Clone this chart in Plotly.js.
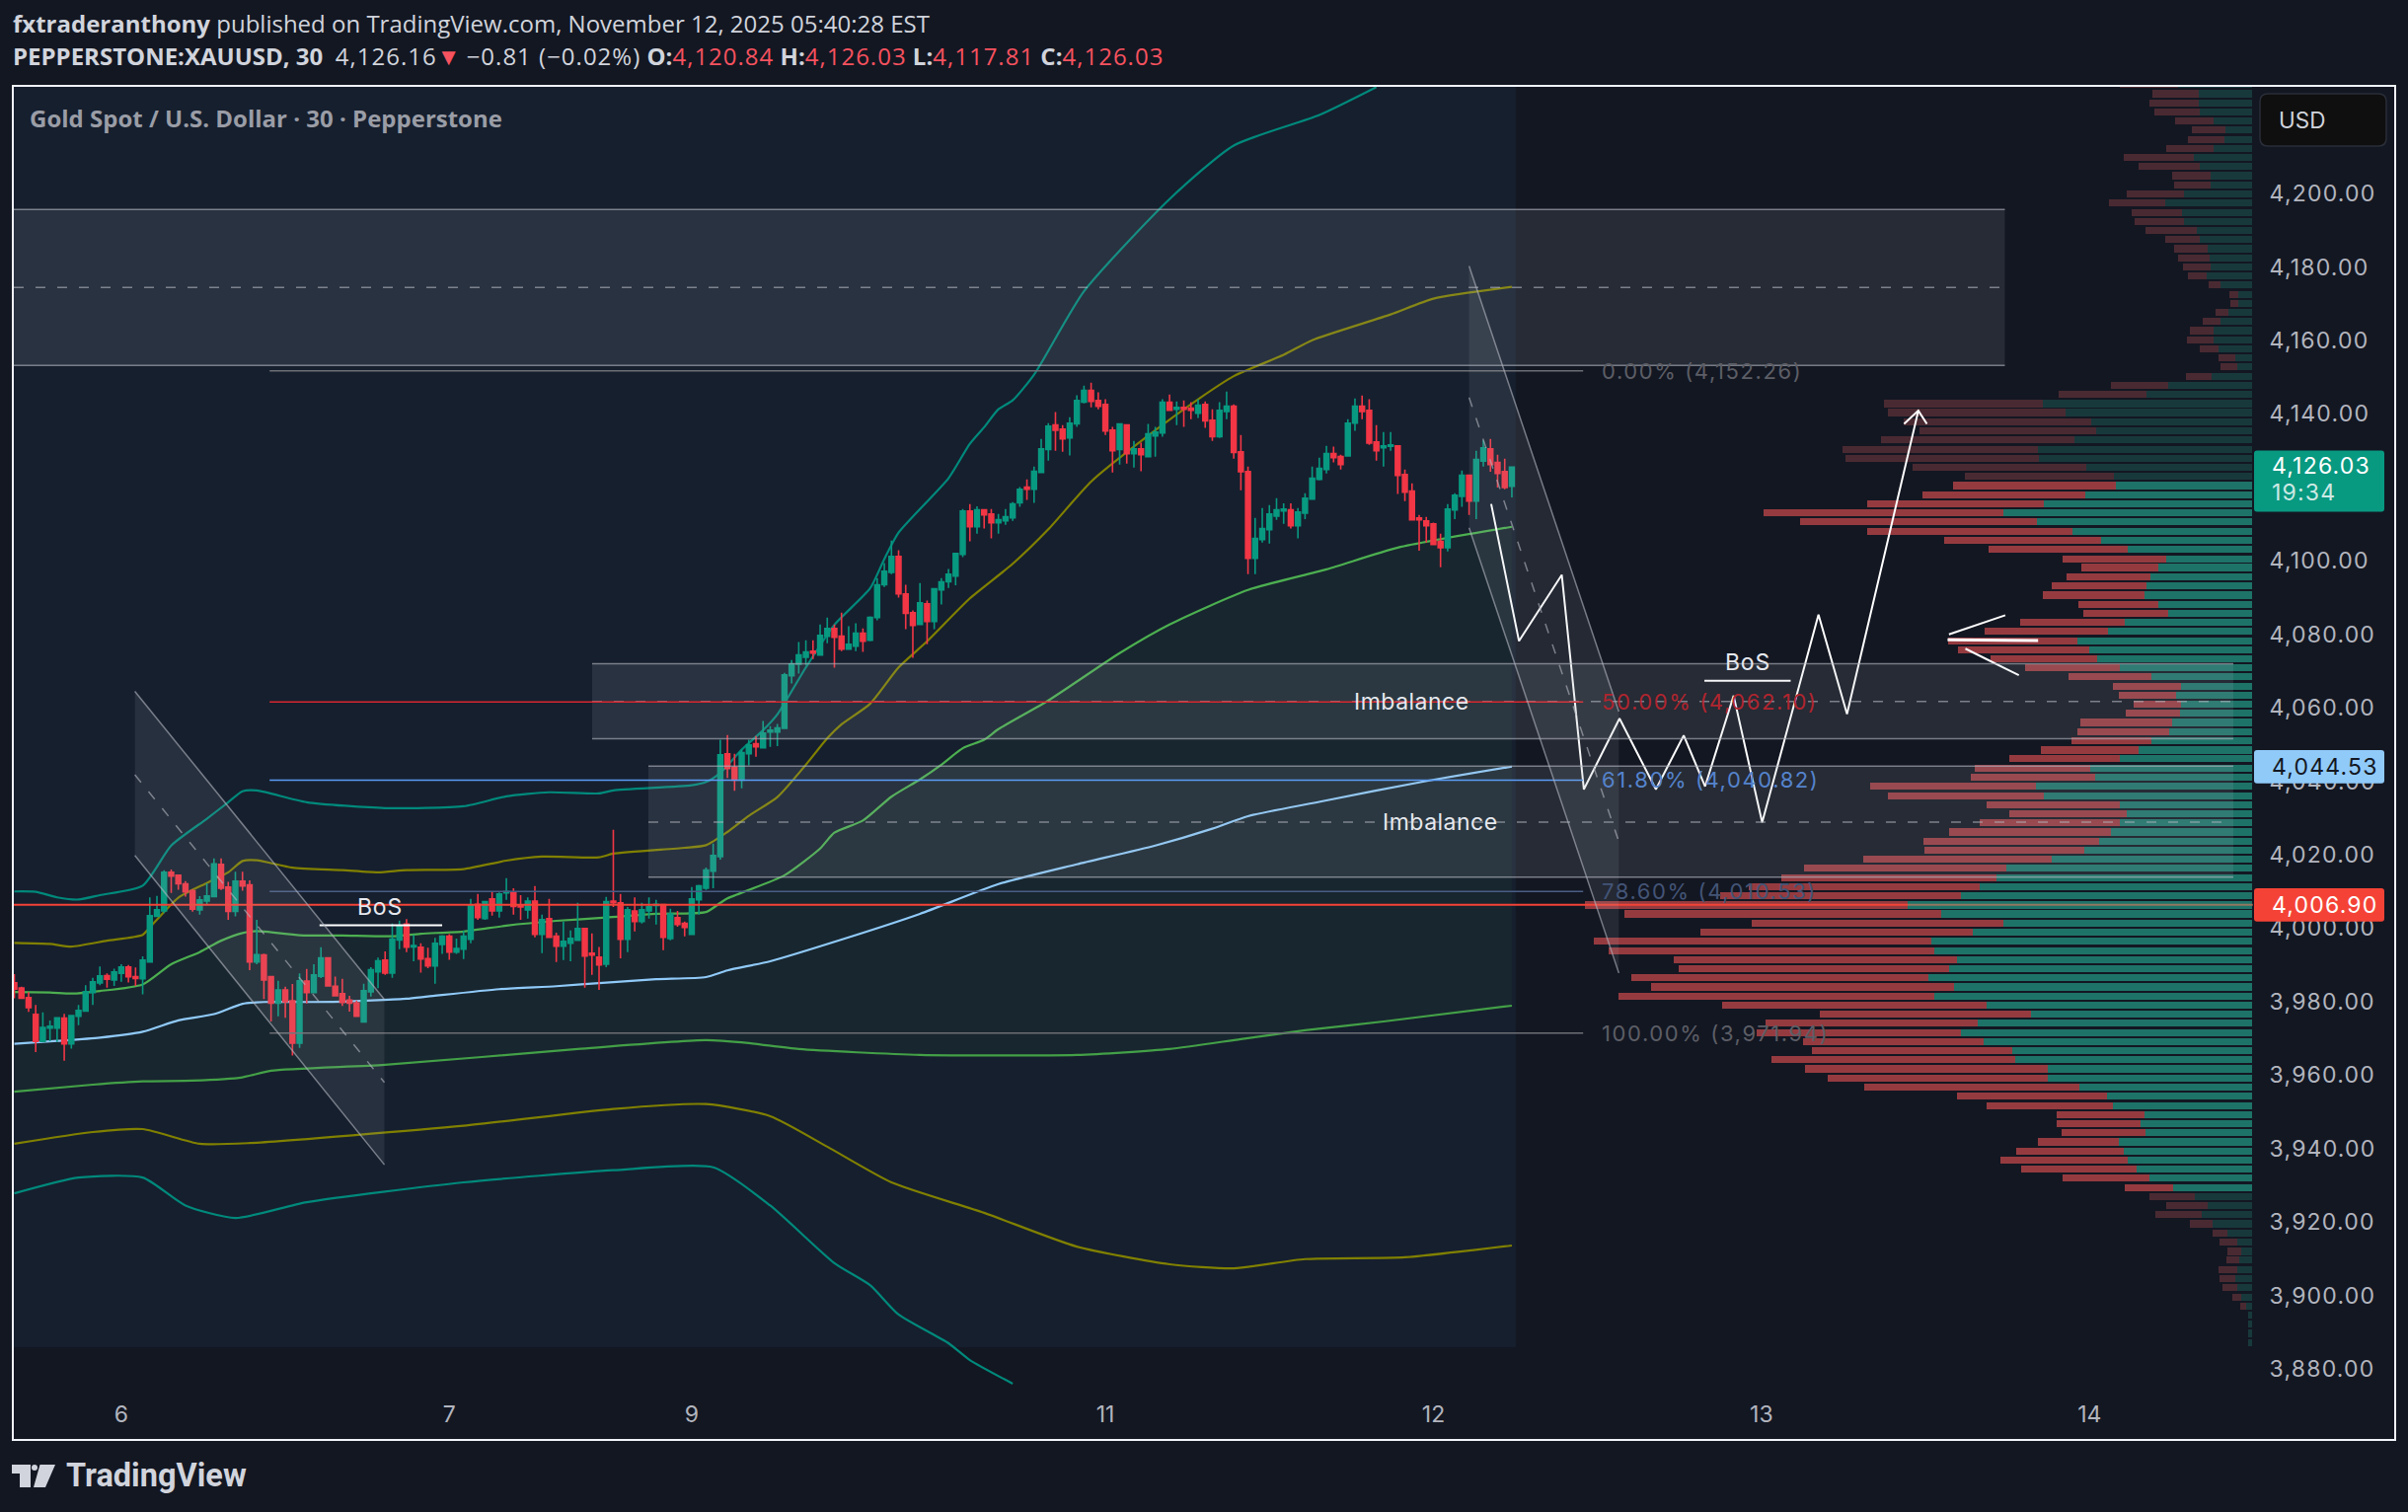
<!DOCTYPE html>
<html><head><meta charset="utf-8">
<script src="https://cdn.plot.ly/plotly-3.0.1.min.js"></script>
<style>html,body{margin:0;padding:0;background:#131722}#c{width:2440px;height:1532px}
.ytick text,.xtick text{letter-spacing:1.2px}</style>
</head><body><div id="c"></div>
<script>
// ---------- candles (30-minute bars, oldest first) ----------
const open_=[3985.6,3984.2,3981.6,3977.0,3969.7,3973.3,3973.3,3976.0,3969.0,3976.5,3977.9,3983.0,3985.6,3987.6,3986.4,3988.2,3989.9,3987.3,3986.7,3991.3,4003.7,4005.2,4015.7,4014.9,4012.6,4010.7,4005.5,4007.9,4009.1,4017.9,4011.7,4005.1,4013.3,4012.3,3991.3,3993.2,3987.3,3980.1,3983.7,3980.7,3969.2,3986.1,3983.0,3987.4,3992.4,3984.7,3982.7,3980.9,3980.1,3975.0,3983.2,3988.6,3991.8,3988.3,3997.3,4001.6,3995.4,3995.3,3992.2,3990.2,3996.1,3998.3,3994.0,3994.8,3997.5,4007.0,4003.1,4008.5,4005.2,4010.1,4010.3,4006.8,4005.5,4007.9,3998.8,4003.1,3998.3,3995.6,3996.4,3997.2,4000.4,3993.7,3992.6,3990.7,4007.9,4007.4,3997.5,4005.2,4002.3,4005.2,4006.7,4006.9,3997.7,4003.4,4001.8,3998.8,4008.2,4011.4,4016.0,4020.0,4048.0,4044.3,4040.8,4048.0,4050.7,4049.6,4053.9,4053.9,4054.9,4069.2,4072.4,4074.3,4075.9,4074.9,4080.0,4082.1,4080.0,4076.5,4077.3,4080.8,4078.9,4085.1,4094.0,4097.4,4101.7,4091.5,4086.4,4083.2,4088.8,4084.0,4092.6,4094.8,4096.4,4102.3,4114.1,4109.8,4114.4,4113.3,4110.9,4111.4,4112.2,4116.3,4120.6,4120.0,4124.6,4130.8,4137.5,4136.4,4134.0,4137.8,4143.7,4146.9,4144.2,4143.1,4136.1,4130.8,4137.5,4129.7,4131.0,4128.9,4134.5,4135.3,4143.7,4141.8,4142.3,4142.1,4140.7,4143.1,4138.8,4134.3,4141.2,4142.6,4130.2,4124.8,4101.2,4106.3,4109.0,4112.7,4114.1,4114.4,4110.1,4113.5,4117.3,4122.7,4125.4,4129.7,4128.9,4129.1,4138.0,4142.6,4141.5,4132.9,4131.3,4131.7,4131.8,4124.0,4119.5,4112.2,4111.4,4110.6,4105.8,4104.1,4114.4,4118.1,4123.8,4116.8,4127.7,4131.0,4127.3,4124.8,4120.84];
const high_=[3988.0,3984.6,3983.1,3979.6,3977.6,3975.4,3976.1,3977.2,3976.7,3979.6,3985.0,3987.0,3990.1,3988.2,3989.5,3990.7,3990.5,3989.8,3992.8,4008.9,4009.3,4016.3,4016.5,4015.1,4013.3,4011.1,4009.2,4012.7,4019.5,4019.5,4013.1,4015.9,4015.9,4013.5,4002.8,3993.6,3987.3,3986.2,3984.6,3985.3,3988.2,3989.4,3990.7,3995.3,3992.6,3987.3,3986.7,3982.1,3980.8,3985.4,3989.9,3992.5,3994.2,4001.8,4002.6,4003.0,3998.7,3996.4,3995.2,3997.9,3998.6,3998.9,3997.7,3999.8,4008.5,4009.8,4007.9,4010.3,4010.2,4014.1,4011.4,4009.5,4008.9,4012.0,4004.2,4008.5,3999.3,4002.3,3999.9,4007.4,4000.4,3999.1,3995.4,4009.0,4027.3,4009.8,4006.3,4008.9,4007.4,4008.9,4008.2,4006.9,4005.8,4005.2,4002.3,4011.7,4012.3,4017.0,4023.5,4051.8,4053.1,4048.0,4049.1,4051.8,4052.8,4056.9,4055.5,4056.1,4070.0,4073.5,4078.4,4078.9,4078.9,4083.2,4085.1,4083.2,4086.4,4082.7,4083.5,4082.1,4085.4,4095.8,4099.9,4106.0,4103.4,4094.0,4087.0,4094.5,4089.7,4093.1,4095.8,4098.3,4102.7,4114.6,4116.0,4115.4,4114.6,4114.6,4113.3,4114.6,4116.5,4120.6,4122.7,4126.2,4133.7,4138.0,4141.0,4137.5,4139.6,4145.6,4148.2,4149.0,4146.4,4144.5,4137.0,4137.8,4137.5,4133.2,4132.7,4137.8,4137.0,4144.5,4145.8,4143.9,4144.2,4143.7,4144.5,4143.9,4141.8,4143.7,4146.6,4143.1,4134.8,4126.2,4112.2,4114.9,4115.7,4117.6,4116.2,4116.2,4114.9,4118.9,4126.2,4128.6,4131.8,4131.6,4129.4,4139.1,4144.7,4145.5,4144.5,4137.5,4135.6,4135.6,4131.8,4125.4,4121.6,4113.0,4112.5,4110.9,4107.9,4116.0,4118.9,4125.1,4124.0,4130.5,4133.3,4133.7,4129.4,4128.3,4126.03];
const low_=[3981.4,3981.3,3977.7,3966.8,3969.7,3969.7,3969.5,3964.4,3967.7,3974.1,3977.9,3979.6,3985.0,3984.3,3984.8,3985.9,3985.7,3984.8,3982.5,3991.3,4003.7,4004.6,4010.1,4011.0,4009.1,4005.0,4004.2,4007.1,4009.1,4010.9,4002.8,4003.7,4010.7,3989.1,3990.7,3981.2,3975.1,3976.5,3976.1,3965.8,3967.9,3980.0,3983.0,3986.9,3984.8,3981.9,3979.3,3977.8,3976.5,3975.0,3981.9,3984.2,3987.8,3987.0,3994.8,3994.0,3991.5,3988.4,3989.6,3985.4,3993.5,3991.9,3993.5,3992.1,3996.4,4002.8,4002.8,4003.9,4003.4,4008.2,4004.2,4002.8,4003.1,3998.0,3993.7,3998.0,3991.3,3991.8,3991.5,3997.2,3984.3,3987.8,3983.7,3989.9,4006.3,3992.3,3994.0,3999.6,4001.8,4003.1,4001.5,3994.5,3997.2,4000.9,3998.3,3998.8,4004.2,4010.9,4011.4,4019.2,4041.4,4037.9,4038.6,4044.8,4047.2,4049.6,4049.9,4050.1,4054.7,4067.1,4069.8,4072.2,4073.8,4074.9,4078.1,4071.4,4075.9,4076.5,4075.9,4075.7,4078.6,4084.3,4093.4,4096.9,4090.5,4081.9,4074.1,4083.2,4077.8,4081.9,4088.6,4093.1,4093.9,4101.5,4105.8,4107.9,4109.3,4106.6,4107.9,4110.3,4111.4,4115.2,4117.1,4116.3,4124.6,4127.8,4130.5,4130.2,4129.2,4137.0,4143.4,4142.3,4141.8,4134.8,4124.6,4126.7,4127.0,4125.9,4124.9,4128.9,4128.9,4134.3,4141.5,4137.5,4137.0,4139.1,4139.4,4136.7,4133.2,4134.0,4139.1,4128.3,4119.7,4096.9,4096.9,4105.5,4105.2,4111.7,4110.6,4109.3,4106.6,4111.9,4117.3,4122.4,4124.3,4127.3,4125.4,4128.9,4135.9,4139.1,4132.1,4127.8,4126.2,4130.5,4118.7,4116.8,4111.7,4103.3,4105.5,4105.0,4098.8,4103.1,4111.9,4115.2,4113.0,4111.9,4126.2,4124.8,4120.5,4120.0,4117.81];
const close_=[3983.9,3981.4,3978.9,3969.7,3973.5,3973.8,3976.1,3969.0,3976.7,3978.1,3983.2,3985.9,3987.5,3986.6,3988.6,3989.9,3987.3,3986.8,3991.8,4003.9,4005.5,4015.7,4014.7,4012.6,4010.4,4005.7,4008.2,4009.3,4018.0,4011.4,4005.1,4013.3,4012.0,3991.3,3993.3,3986.4,3980.1,3983.7,3980.5,3969.2,3986.2,3983.0,3987.8,3992.4,3984.8,3982.1,3980.3,3980.1,3976.5,3983.5,3989.2,3991.6,3988.3,3997.5,4001.1,3995.3,3995.8,3992.1,3990.2,3996.4,3998.3,3994.0,3995.0,3998.3,4006.8,4003.4,4007.7,4005.2,4009.8,4010.5,4006.4,4006.3,4007.9,3998.8,4002.8,3998.0,3995.6,3996.9,3997.7,4000.4,3992.9,3993.2,3990.5,4007.7,4007.4,3997.5,4005.5,4002.3,4005.5,4006.3,4007.0,3998.0,4004.4,4001.5,4000.7,4008.5,4012.0,4016.3,4020.3,4047.7,4044.0,4040.8,4048.3,4050.4,4049.9,4053.6,4054.4,4055.0,4069.5,4072.4,4074.9,4075.7,4075.4,4080.2,4082.1,4079.7,4076.5,4077.8,4080.8,4078.6,4085.1,4094.0,4097.7,4101.7,4091.5,4086.2,4082.9,4089.1,4084.0,4092.9,4094.8,4096.9,4102.5,4114.1,4109.8,4114.4,4113.0,4110.9,4111.7,4112.5,4116.0,4120.0,4120.0,4124.9,4131.0,4137.2,4136.1,4133.7,4138.0,4144.2,4146.9,4143.9,4142.6,4135.9,4130.5,4137.8,4129.7,4131.0,4129.4,4135.1,4135.6,4143.7,4141.5,4142.3,4141.8,4141.5,4142.9,4138.6,4134.3,4141.5,4142.6,4130.0,4124.8,4101.2,4106.6,4109.3,4113.3,4114.4,4114.6,4110.1,4113.8,4117.6,4123.0,4125.7,4129.7,4128.6,4126.7,4138.0,4142.6,4141.2,4132.6,4130.5,4131.8,4132.1,4123.8,4119.2,4111.7,4111.7,4110.1,4105.0,4104.1,4114.6,4118.4,4123.8,4116.8,4128.1,4131.3,4126.7,4124.3,4120.5,4126.03];

// ---------- anchored VWAP and bands ----------
const vwapBars=[0,6,12,18,23,28,32,35,41,46,51,55,58,68,76,83,90,97,100,106,116,127,138,149,160,168,173,184,197,210];
const vwapVals=[3969.0,3969.8,3970.7,3972.3,3975.4,3977.1,3979.9,3980.4,3980.4,3980.5,3980.9,3981.3,3981.9,3983.9,3984.7,3985.7,3986.6,3987.2,3989.0,3991.5,3997.4,4004.4,4012.5,4017.9,4023.0,4027.6,4031.0,4035.3,4040.2,4044.5];
const up1Bars=[0,5,8,12,18,22,26,29,32,34,40,46,53,57,63,69,76,83,90,97,99,100,108,113,115,119,123,127,130,133,136,138,145,155,162,173,184,194,210];
const up1Vals=[3983.1,3983.0,3982.7,3983.4,3985.2,3990.7,3994.0,3997.1,3999.2,3999.7,3998.6,3998.5,3998.3,3999.0,3999.6,4001.2,4002.5,4003.4,4004.4,4004.9,4007.4,4008.6,4014.9,4022.2,4026.5,4029.8,4036.3,4041.0,4045.0,4049.5,4051.8,4054.7,4062.5,4075.4,4083.2,4092.6,4098.2,4104.1,4109.8];
const lo1Bars=[0,11,18,25,32,36,52,79,97,103,110,127,149,162,172,181,192,210];
const lo1Vals=[3956.0,3957.9,3958.8,3959.0,3959.9,3961.7,3963.3,3967.6,3970.0,3969.2,3967.6,3966.0,3966.0,3967.6,3970.3,3972.7,3975.1,3979.4];
const up2Bars=[0,5,8,13,18,19,23,27,30,32,34,39,46,51,55,63,69,74,82,84,94,97,100,103,107,111,114,116,120,124,128,134,140,145,151,159,166,171,178,182,193,199,210];
const up2Vals=[3996.5,3996.2,3995.5,3997.1,3998.7,4000.7,4008.8,4012.8,4015.7,4018.8,4019.0,4017.0,4016.3,4015.7,4016.3,4016.6,4018.9,4020.0,4019.8,4020.8,4022.4,4023.1,4026.7,4031.1,4036.2,4045.0,4052.2,4056.0,4061.6,4071.5,4078.6,4090.3,4099.7,4109.1,4122.1,4134.6,4144.5,4150.8,4156.6,4160.6,4167.6,4171.9,4175.1];
const lo2Bars=[0,11,18,26,33,63,84,97,106,114,123,136,149,162,171,181,195,210];
const lo2Vals=[3941.8,3945.0,3945.8,3941.8,3942.0,3946.7,3951.3,3952.6,3949.3,3941.0,3931.3,3923.0,3913.8,3909.0,3907.9,3910.4,3910.9,3914.1];
const up3Bars=[0,3,6,9,12,18,22,27,30,32,34,41,52,63,69,75,82,84,95,97,99,102,105,107,111,115,120,122,124,131,134,136,138,140,143,150,162,171,183,191];
const up3Vals=[4010.5,4010.4,4008.9,4008.3,4009.5,4012.1,4023.0,4030.3,4034.8,4037.8,4038.0,4034.8,4033.2,4033.7,4036.4,4037.5,4037.2,4038.0,4039.4,4040.3,4042.8,4049.1,4054.4,4058.7,4071.5,4083.1,4093.0,4101.0,4108.2,4123.0,4132.4,4136.9,4141.8,4144.2,4151.2,4173.9,4199.0,4213.6,4221.9,4229.5];
const lo3Bars=[0,9,18,24,31,41,63,84,98,106,115,120,124,131,134,140];
const lo3Vals=[3928.3,3932.6,3932.6,3925.0,3921.6,3925.9,3931.3,3934.6,3935.4,3925.0,3909.3,3903.3,3895.3,3887.5,3882.9,3876.5];

// ---------- volume profile ----------
const rowPrice=[4230.2,4227.7,4225.2,4222.7,4220.3,4217.8,4215.3,4212.8,4210.3,4207.9,4205.4,4202.9,4200.4,4197.9,4195.4,4193.0,4190.5,4188.0,4185.5,4183.0,4180.6,4178.1,4175.6,4173.1,4170.6,4168.2,4165.7,4163.2,4160.7,4158.2,4155.7,4153.3,4150.8,4148.3,4145.8,4143.3,4140.9,4138.4,4135.9,4133.4,4130.9,4128.4,4126.0,4123.5,4121.0,4118.5,4116.0,4113.6,4111.1,4108.6,4106.1,4103.6,4101.1,4098.7,4096.2,4093.7,4091.2,4088.7,4086.3,4083.8,4081.3,4078.8,4076.3,4073.9,4071.4,4068.9,4066.4,4063.9,4061.4,4059.0,4056.5,4054.0,4051.5,4049.0,4046.6,4044.1,4041.6,4039.1,4036.6,4034.1,4031.7,4029.2,4026.7,4024.2,4021.7,4019.3,4016.8,4014.3,4011.8,4009.3,4006.8,4004.4,4001.9,3999.4,3996.9,3994.4,3992.0,3989.5,3987.0,3984.5,3982.0,3979.5,3977.1,3974.6,3972.1,3969.6,3967.1,3964.7,3962.2,3959.7,3957.2,3954.7,3952.2,3949.8,3947.3,3944.8,3942.3,3939.8,3937.4,3934.9,3932.4,3929.9,3927.4,3924.9,3922.5,3920.0,3917.5,3915.0,3912.5,3910.1,3907.6,3905.1,3902.6,3900.1,3897.6,3895.2,3892.7,3890.2,3887.7];
const rowSell=[59.3,47,50,46.3,39.3,34,37,48.3,71.3,62.3,39,37,58.3,57,51.3,50.3,52,35.3,34.3,32.3,28,19,12,9,8,13,18,24.3,27.3,19,17,17.3,26,58.3,89,161.3,179.3,189.5,178.7,196,197.8,196.6,175.7,150.5,164.9,164.9,178.7,242.8,239.8,207.4,158.3,140.9,104.9,77.9,84.5,95.9,102.5,80.9,85.7,105.5,124.7,130.7,132.5,107.9,95.3,83.9,69.5,58.2,48,54.6,92.3,93.5,81.5,98.9,111.5,116.3,125.3,167.3,157.7,134.3,118.7,141.4,164.3,178,161.3,191.8,204.4,217.6,233.8,244,327.3,320.3,254.4,275.8,342.3,330,286.6,273.7,300.5,307.4,319.8,267.3,213.7,214.8,206.7,183.2,203,246.4,245.8,222.3,218,151.6,128,89.4,85.2,85.2,81.4,108.7,129.1,116.8,87.3,49.3,45.5,41.2,47.1,23,15,17.7,13.9,12.3,18.2,16.6,14.5,8.6,5.9,0,0,0,0];
const rowBuy=[74.7,54,54,52.7,38.7,27,28,38.7,58.7,52.7,42,42,68.7,88,70.7,68.7,56,52.7,44.7,42.7,42,46,32,14,14,24,32,38.7,38.7,34,17,14.7,41,84.7,107,212.2,189.5,163.1,158.3,179.9,217,215.8,167.9,140.3,137.9,169.1,211,251.8,218.2,182.3,153.5,125.9,87.5,94.7,103.1,106.7,109.1,94.7,85.1,129.5,146.3,177.5,165.5,157.1,134.3,101.9,71.9,76.7,71.9,73.1,81.5,83.9,101.9,115.1,134.3,164.3,159.5,219.4,211,134.3,127.1,134.3,142.7,154.7,170.3,202.6,249.4,259,275.8,295,348.7,315.5,252.3,282.8,324.6,321.9,299.4,306.9,328.3,301.6,321.9,269.4,224.4,278,295.1,271.6,242.6,240.5,207.3,207.3,175.1,147.3,140.9,108.7,113,107.7,135.5,130.2,125.9,117.3,104.4,79.8,58.4,45.5,50.9,40.2,25.2,15.5,11.2,13.4,15.5,16.6,15.5,11.2,5.9,3.7,3.7,3.7,3.7];
const visibleRangeHigh=4122, visibleRangeLow=3929;

// ---------- axis labels ----------
const priceTicks=[4200,4180,4160,4140,4120,4100,4080,4060,4040,4020,4000,3980,3960,3940,3920,3900,3880];
const priceLabels=["4,200.00","4,180.00","4,160.00","4,140.00","","4,100.00","4,080.00","4,060.00","4,040.00","4,020.00","4,000.00","3,980.00","3,960.00","3,940.00","3,920.00","3,900.00","3,880.00"];
const dayBars=[15,61,95,153,199,245,291];
const dayLabels=["6","7","9","11","12","13","14"];

// ---------- drawings ----------
const fibPrices=[4152.26,4062.10,4040.82,4010.53,3971.94];
const fibNames=["0.00% (4,152.26)","50.00% (4,062.10)","61.80% (4,040.82)","78.60% (4,010.53)","100.00% (3,971.94)"];
const boxTops=[4196.2,4072.5,4044.6];
const boxBottoms=[4153.7,4052.1,4014.4];
const boxMids=[4174.95,4062.2,4029.4];
const pathBars=[207.1,211,217,220.1,225.1,230.2,234.1,237.1,241.1,245.1,253,257,267];
const pathPrices=[4116.0,4078.7,4096.7,4038.3,4057.6,4038.3,4053.0,4039.1,4063.8,4029.3,4085.9,4058.8,4141.4];

// ---------- pixel helpers for the page furniture ----------
const PL=14,PR=2283,PT=88,PB=1410;
const px=v=>(v-PL)/(PR-PL), py=v=>1-(v-PT)/(PB-PT);
const barAt=v=>(v-14.5)/7.226;
const FONT='Inter, Roboto, sans-serif', GREY='#b2b5be', UP='#089981', DOWN='#f23645';
const HEAD='"Open Sans", sans-serif';

const traces=[];
const bright=p=>p<=visibleRangeHigh&&p>=visibleRangeLow;
traces.push({type:'bar',orientation:'h',x:rowBuy,y:rowPrice,width:1.92,xaxis:'x',yaxis:'y',hoverinfo:'skip',
  marker:{color:rowPrice.map(p=>bright(p)?'#1e7368':'#18393c'),line:{width:0}}});
traces.push({type:'bar',orientation:'h',x:rowSell,y:rowPrice,width:1.92,xaxis:'x',yaxis:'y',hoverinfo:'skip',
  marker:{color:rowPrice.map(p=>bright(p)?'#953b40':'#4a2a32'),line:{width:0}}});
const ln=(x,y,c,extra)=>Object.assign({type:'scatter',mode:'lines',x,y,xaxis:'x2',yaxis:'y',hoverinfo:'skip',line:{color:c,width:2.2,shape:'spline',smoothing:0.6}},extra||{});
traces.push(ln(lo1Bars,lo1Vals,'#43a047'));
traces.push(ln(up1Bars,up1Vals,'#4caf50',{fill:'tonexty',fillcolor:'rgba(76,175,80,0.05)'}));
traces.push(ln(vwapBars,vwapVals,'#90caf9'));
traces.push(ln(up2Bars,up2Vals,'#808000'));
traces.push(ln(lo2Bars,lo2Vals,'#808000'));
traces.push(ln(up3Bars,up3Vals,'#00897b'));
traces.push(ln(lo3Bars,lo3Vals,'#00897b'));
traces.push({type:'candlestick',x:open_.map((_,i)=>i),open:open_,high:high_,low:low_,close:close_,xaxis:'x3',yaxis:'y',
  hoverinfo:'skip',whiskerwidth:0,
  increasing:{line:{color:UP,width:1.6},fillcolor:UP},decreasing:{line:{color:DOWN,width:1.6},fillcolor:DOWN}});
const wl=(x,y,w)=>({type:'scatter',mode:'lines',x,y,xaxis:'x3',yaxis:'y',hoverinfo:'skip',line:{color:'#ffffff',width:w||2}});
traces.push(wl(pathBars,pathPrices));
traces.push(wl([265,267,268.2],[4137.8,4141.4,4137.8]));
traces.push(wl([279.2,271.3],[4085.7,4080.5]));
traces.push(wl([271.1,283.8],[4079.0,4078.8],3));
traces.push(wl([273.6,281.1],[4076.6,4069.4]));
traces.push(wl([42.8,60.0],[4001.3,4001.3]));
traces.push(wl([237,249.1],[4067.9,4067.9]));

const shapes=[];
// session background
shapes.push({type:'rect',layer:'below',xref:'x3',yref:'y',x0:-1,x1:barAt(1536),y0:3886.4,y1:4232,fillcolor:'#161f2e',line:{width:0}});
// zone boxes
const boxLefts=[14,600,657], boxRights=[2031.5,2263,2263];
boxTops.forEach((t,i)=>{
  const a=barAt(boxLefts[i]), b=barAt(boxRights[i]);
  shapes.push({type:'rect',xref:'x3',yref:'y',x0:a,x1:b,y0:boxBottoms[i],y1:t,fillcolor:'rgba(178,181,190,0.125)',line:{width:0}});
  [t,boxBottoms[i]].forEach(v=>shapes.push({type:'line',xref:'x3',yref:'y',x0:a,x1:b,y0:v,y1:v,line:{color:'rgba(178,181,190,0.62)',width:1.5}}));
  shapes.push({type:'line',xref:'x3',yref:'y',x0:a,x1:b,y0:boxMids[i],y1:boxMids[i],line:{color:'rgba(178,181,190,0.62)',width:1.5,dash:'10px,12px'}});
});
// fib lines
const fibColors=['#6c6e74','#d8262f','#5b9cf6','#4a5d84','#6c6e74'];
const fibText=['#5c5e66','#b0252f','#5583cc','#435476','#5c5e66'];
fibPrices.forEach((p,i)=>shapes.push({type:'line',xref:'x3',yref:'y',x0:35.8,x1:220,y0:p,y1:p,line:{color:fibColors[i],width:1.5}}));
// price line: solid across the chart, translucent over the buy side of the profile
shapes.push({type:'line',xref:'paper',yref:'y',x0:0,x1:px(1933),y0:4006.9,y1:4006.9,line:{color:'#f44336',width:2}});
shapes.push({type:'line',xref:'paper',yref:'y',x0:px(1933),x1:1,y0:4006.9,y1:4006.9,line:{color:'rgba(244,120,90,0.55)',width:2}});
// channels
const channels=[{a:16.9,b:51.9,ut:4065.0,ub:3981.1,mt:4042.3,mb:3958.5,lt:4020.3,lb:3936.1},
                {a:204,b:225,ut:4180.8,ub:4059.5,mt:4145.0,mb:4024.1,lt:4109.5,lb:3988.3}];
channels.forEach(c=>{
  const path=`M${c.a},${c.ut} L${c.b},${c.ub} L${c.b},${c.lb} L${c.a},${c.lt} Z`;
  shapes.push({type:'path',xref:'x3',yref:'y',path,fillcolor:'rgba(178,181,190,0.115)',line:{width:0}});
  shapes.push({type:'line',xref:'x3',yref:'y',x0:c.a,x1:c.b,y0:c.ut,y1:c.ub,line:{color:'rgba(178,181,190,0.62)',width:1.5}});
  shapes.push({type:'line',xref:'x3',yref:'y',x0:c.a,x1:c.b,y0:c.lt,y1:c.lb,line:{color:'rgba(178,181,190,0.62)',width:1.5}});
  shapes.push({type:'line',xref:'x3',yref:'y',x0:c.a,x1:c.b,y0:c.mt,y1:c.mb,line:{color:'rgba(178,181,190,0.62)',width:1.5,dash:'10px,12px'}});
});
// price tags
const rr=(x0,y0,x1,y1,r)=>`M${px(x0+r)},${py(y0)} L${px(x1-r)},${py(y0)} Q${px(x1)},${py(y0)} ${px(x1)},${py(y0+r)} L${px(x1)},${py(y1-r)} Q${px(x1)},${py(y1)} ${px(x1-r)},${py(y1)} L${px(x0+r)},${py(y1)} Q${px(x0)},${py(y1)} ${px(x0)},${py(y1-r)} L${px(x0)},${py(y0+r)} Q${px(x0)},${py(y0)} ${px(x0+r)},${py(y0)} Z`;
shapes.push({type:'path',xref:'paper',yref:'paper',path:rr(2284,456.5,2416,518.5,3),fillcolor:UP,line:{width:0}});
shapes.push({type:'path',xref:'paper',yref:'paper',path:rr(2284,760,2416,793.7,3),fillcolor:'#90caf9',line:{width:0}});
shapes.push({type:'path',xref:'paper',yref:'paper',path:rr(2284,900,2416,933.8,3),fillcolor:'#f44336',line:{width:0}});
// frame
shapes.push({type:'rect',xref:'paper',yref:'paper',x0:px(13),x1:px(2427),y0:py(87),y1:py(1459),line:{color:'#f0f3fa',width:2},fillcolor:'rgba(0,0,0,0)'});
// USD button
shapes.push({type:'path',xref:'paper',yref:'paper',path:rr(2290,95,2418,148,8),fillcolor:'#0f0f0f',line:{color:'#2a2e39',width:1.5}});
// logo
shapes.push({type:'path',xref:'paper',yref:'paper',fillcolor:'#d1d4dc',line:{width:0},
  path:`M${px(12)},${py(1484)} L${px(31)},${py(1484)} L${px(31)},${py(1507)} L${px(20)},${py(1507)} L${px(20)},${py(1493)} L${px(12)},${py(1493)} Z M${px(40.5)},${py(1484)} L${px(56)},${py(1484)} L${px(46)},${py(1507)} L${px(34)},${py(1507)} Z`});
shapes.push({type:'circle',xref:'paper',yref:'paper',x0:px(32),x1:px(38),y0:py(1484),y1:py(1490),fillcolor:'#d1d4dc',line:{width:0}});

const ann=[];
const T=(x,y,text,size,color,family)=>ann.push({xref:'paper',yref:'paper',x:px(x),y:py(y),text,showarrow:false,xanchor:'left',yanchor:'middle',align:'left',font:{family:family||FONT,size,color}});
const sp=(c,t)=>`<span style="color:${c}">${t}</span>`;
const ls=(n,t)=>`<span style="letter-spacing:${n}px">${t}</span>`;
const RED='#f7525f';
const num=(c,t)=>`<span style="color:${c};letter-spacing:1px">${t}</span>`;
T(11,24,'<b>fxtraderanthony</b> published on TradingView.com, November 12, 2025 05:40:28 EST',24,'#d1d4dc',HEAD);
T(11,57,'<b>PEPPERSTONE:XAUUSD, 30</b>  '+num('#d1d4dc','4,126.16')+sp(RED,'▼')+' '+num('#d1d4dc','−0.81 (−0.02%)')+' <b>O:</b>'+num(RED,'4,120.84')+' <b>H:</b>'+num(RED,'4,126.03')+' <b>L:</b>'+num(RED,'4,117.81')+' <b>C:</b>'+num(RED,'4,126.03'),24,'#d1d4dc',HEAD);
T(28,119.5,'<b>Gold Spot / U.S. Dollar · 30 · Pepperstone</b>',24,'#9a9da6',HEAD);
T(2307,121,'USD',22.5,'#d1d4dc');
T(65,1495,'<b>TradingView</b>',32.5,'#d1d4dc','Roboto, sans-serif');
// price tag text
T(2300,472.5,ls(1.2,'4,126.03'),23,'#ffffff');
T(2300,499.5,ls(1.2,'19:34'),23,'#cde9e4');
T(2300,777,ls(1.2,'4,044.53'),23,'#131722');
T(2300,917,ls(1.2,'4,006.90'),23,'#ffffff');
// fib labels
fibNames.forEach((s,i)=>ann.push({xref:'x3',yref:'y',x:222.3,y:fibPrices[i],xanchor:'left',yanchor:'middle',showarrow:false,text:ls(1.6,s),font:{family:FONT,size:22,color:fibText[i]}}));
// chart text
const L=(k,p,t,size,n)=>ann.push({xref:'x3',yref:'y',x:k,y:p,showarrow:false,text:ls(n,t),font:{family:FONT,size,color:'#e6e8ee'}});
L(51.3,4006.2,'BoS',23,0.8); L(243.1,4073.0,'BoS',23,0.8);
L(195.9,4062.2,'Imbalance',23,0.5); L(200,4029.4,'Imbalance',23,0.5);

const hidden={overlaying:'x',visible:false,range:[-0.07,313.94],anchor:'y'};
Plotly.newPlot('c',traces,{
  width:2440,height:1532,showlegend:false,hovermode:false,dragmode:false,
  paper_bgcolor:'#131722',plot_bgcolor:'#131722',
  margin:{l:PL,r:2440-PR,t:PT,b:1532-PB,pad:0},
  barmode:'stack',boxgap:0.33,boxgroupgap:0,
  xaxis:{range:[2268,-1],visible:false,fixedrange:true,anchor:'y'},
  xaxis2:Object.assign({},hidden),
  xaxis3:{overlaying:'x',anchor:'y',range:[-0.07,313.94],rangeslider:{visible:false},tickvals:dayBars,ticktext:dayLabels,tickmode:'array',
    side:'bottom',showgrid:false,zeroline:false,showline:false,ticks:'outside',ticklen:2,tickcolor:'rgba(0,0,0,0)',tickfont:{family:FONT,size:23,color:GREY}},
  yaxis:{range:[3874.33,4229.57],side:'right',tickmode:'array',tickvals:priceTicks,ticktext:priceLabels,showgrid:false,zeroline:false,showline:false,
    ticks:'outside',ticklen:11,tickcolor:'rgba(0,0,0,0)',ticklabelshift:-2,tickfont:{family:FONT,size:23,color:GREY}},
  shapes,annotations:ann
},{displayModeBar:false,staticPlot:true});
</script></body></html>
